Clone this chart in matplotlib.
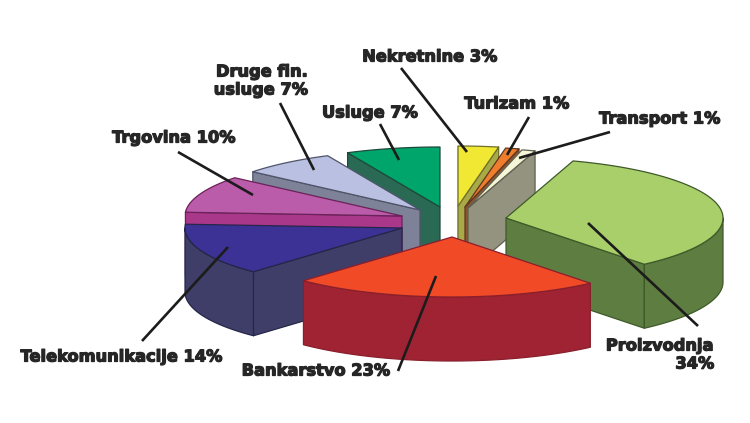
import numpy as np
import matplotlib
matplotlib.use('Agg')
import matplotlib.pyplot as plt
from matplotlib.patches import Polygon
import matplotlib.patheffects as pe

# Shares in percent, clockwise from the start angle
sectors = ['Proizvodnja', 'Bankarstvo', 'Telekomunikacije', 'Trgovina',
           'Druge fin. usluge', 'Usluge', 'Nekretnine', 'Turizam', 'Transport']
shares = [34, 23, 14, 10, 7, 7, 3, 1, 1]

top_colors = ['#a8cf6a', '#f04a26', '#3c3296', '#bb5cab', '#b9c0e1',
              '#00a56b', '#f0e832', '#f07d2d', '#f5f5d7']
wall_colors = ['#5e7d40', '#a02333', '#3e3e69', '#a9378a', '#7d8299',
               '#2a6a55', '#a8aa48', '#8c5532', '#93937f']
edge_colors = ['#3f5a2a', '#8a1f2c', '#26264a', '#6a2258', '#4f5468',
               '#1c4a3a', '#70702c', '#5e3820', '#5f5f50']

# Where each slice's tip sits once pulled out of the pie
tip_x = [506, 452, 402, 402, 420, 440, 458, 465, 468]
tip_y = [218, 237, 228, 216, 210, 207, 206, 207, 208]
# Back to front
draw_order = [5, 4, 6, 7, 8, 3, 2, 0, 1]

rx, ry = 217, 60     # ellipse radii of the tilted pie
depth = 64           # thickness
start = 72.0         # degrees

labels = [
    ('Nekretnine 3%', 430, 57, 'center'),
    ('Turizam 1%', 517, 104, 'center'),
    ('Transport 1%', 660, 119, 'center'),
    ('Usluge 7%', 370, 113, 'center'),
    ('Druge fin.', 262, 72, 'center'),
    ('usluge 7%', 261, 90, 'center'),
    ('Trgovina 10%', 174, 138, 'center'),
    ('Telekomunikacije 14%', 122, 357, 'center'),
    ('Bankarstvo 23%', 316, 371, 'center'),
    ('Proizvodnja', 714, 346, 'right'),
    ('34%', 714, 364, 'right'),
]
# Leader lines: x0, y0, x1, y1
leaders = [
    (401, 68, 467, 152),
    (529, 117, 507, 155),
    (610, 132, 519, 158),
    (380, 124, 399, 160),
    (280, 103, 314, 170),
    (178, 152, 253, 195),
    (142, 341, 228, 247),
    (398, 371, 436, 276),
    (698, 326, 588, 223),
]

fig = plt.figure(figsize=(7.5, 4.23), dpi=100, facecolor='w')
ax = fig.add_axes([0, 0, 1, 1])
ax.set_xlim(0, 750)
ax.set_ylim(423, 0)
ax.axis('off')


def rim(cx, cy, a0, a1):
    t = np.radians(np.linspace(a0, a1, 80))
    return np.column_stack([cx + rx*np.cos(t), cy - ry*np.sin(t)])


def face(pts, fc, ec, z):
    ax.add_patch(Polygon(pts, closed=True, fc=fc, ec=ec, lw=0.9,
                         joinstyle='round', zorder=z))


def draw_slice(i, a0, a1, z):
    cx, cy = tip_x[i], tip_y[i]
    tip = np.array([[cx, cy]])
    # radial walls that turn toward the viewer
    for a, normal in ((a0, a0 + 90), (a1, a1 - 90)):
        if np.sin(np.radians(normal)) < 0:
            edge = np.vstack([tip, rim(cx, cy, a, a)[:1]])
            face(np.vstack([edge, edge[::-1] + [0, depth]]),
                 wall_colors[i], edge_colors[i], z)
    # outer wall, front half of the ellipse only
    for shift in (0, -360):
        l, h = max(a1, -180 + shift), min(a0, shift)
        if l < h:
            top = rim(cx, cy, h, l)
            face(np.vstack([top, top[::-1] + [0, depth]]),
                 wall_colors[i], edge_colors[i], z)
    face(np.vstack([tip, rim(cx, cy, a0, a1)]),
         top_colors[i], edge_colors[i], z + 0.5)


ends = start - np.cumsum(shares) * 3.6
begins = np.concatenate([[start], ends[:-1]])
for z, i in enumerate(draw_order):
    draw_slice(i, begins[i], ends[i], z + 1)

for x0, y0, x1, y1 in leaders:
    ax.plot([x0, x1], [y0, y1], color='#1c1c1c', lw=1.9, zorder=30,
            solid_capstyle='butt')

for txt, x, y, ha in labels:
    ax.text(x, y, txt, ha=ha, va='center', fontsize=11.7, family='DejaVu Sans',
            weight='bold', color='#262626', zorder=31,
            path_effects=[pe.withStroke(linewidth=0.9, foreground='#262626')])

fig.savefig('out.png', dpi=100)
